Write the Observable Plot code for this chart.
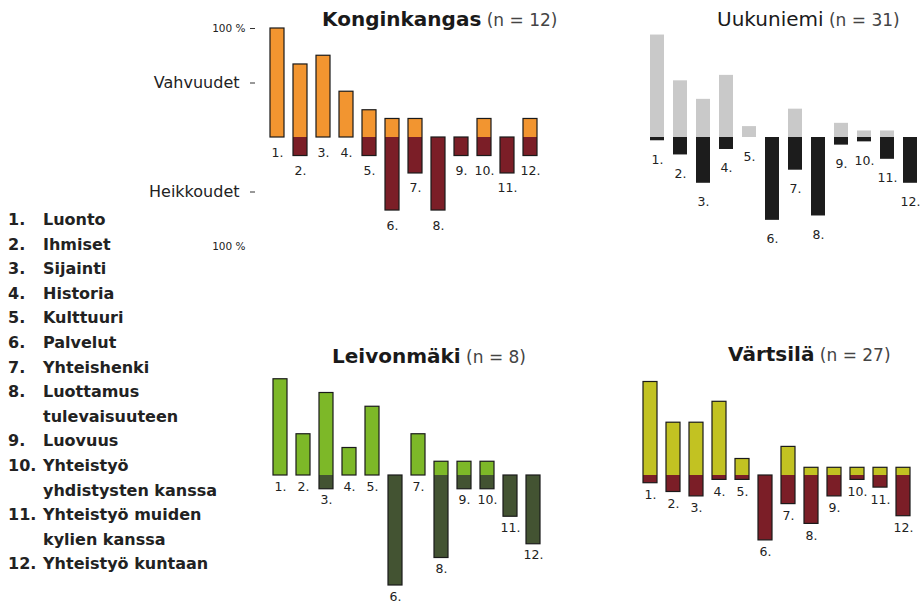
<!DOCTYPE html>
<html><head><meta charset="utf-8">
<script src="https://cdn.jsdelivr.net/npm/d3@7"></script>
<script src="https://cdn.jsdelivr.net/npm/@observablehq/plot@0.6"></script>
<style>
html,body{margin:0;padding:0;background:#fff;overflow:hidden}
#root{position:relative;width:923px;height:604px;font-family:"DejaVu Sans",sans-serif;color:#1a1a1a}
.panel{position:absolute}
.title{position:absolute;white-space:nowrap;line-height:20px}
.title .name{font-size:20px}
.title .n{font-size:17px;color:#444}
.legend{position:absolute;left:8px;top:208px;font-size:16px;font-weight:bold;line-height:24.6px;color:#222}
.legend .row{display:flex}
.legend .num{width:35px;flex:none}
</style></head><body><div id="root"></div>
<script>
// ---- data ----
const categories = ["1.", "2.", "3.", "4.", "5.", "6.", "7.", "8.", "9.", "10.", "11.", "12."];
const legendNumbers = ["1.", "2.", "3.", "4.", "5.", "6.", "7.", "8.", "9.", "10.", "11.", "12."];
const legendLabels = [
  ["Luonto"], ["Ihmiset"], ["Sijainti"], ["Historia"], ["Kulttuuri"], ["Palvelut"],
  ["Yhteishenki"], ["Luottamus", "tulevaisuuteen"], ["Luovuus"],
  ["Yhteistyö", "yhdistysten kanssa"], ["Yhteistyö muiden", "kylien kanssa"], ["Yhteistyö kuntaan"]
];
const axisTickValues = [100, 50, -50, -100];
const axisTickLabels = ["100 %", "Vahvuudet", "Heikkoudet", "100 %"];

const konginkangasStrengths  = [100, 67, 75, 42, 25, 17, 17, 0, 0, 17, 0, 17];
const konginkangasWeaknesses = [0, 17, 0, 0, 17, 67, 33, 67, 17, 17, 33, 17];
const uukuniemiStrengths  = [94, 52, 35, 57, 10, 0, 26, 0, 13, 6, 6, 0];
const uukuniemiWeaknesses = [3, 16, 42, 11, 0, 76, 30, 72, 7, 4, 20, 42];
const leivonmakiStrengths  = [87.5, 37.5, 75, 25, 62.5, 0, 37.5, 12.5, 12.5, 12.5, 0, 0];
const leivonmakiWeaknesses = [0, 0, 12.5, 0, 0, 100, 0, 75, 12.5, 12.5, 37.5, 62.5];
const vartsilaStrengths  = [85, 48, 48, 67, 15, 0, 26, 7, 7, 7, 7, 7];
const vartsilaWeaknesses = [7, 15, 19, 4, 4, 59, 26, 44, 19, 4, 11, 37];

// ---- layout ----
const panels = [
  {name: "Konginkangas", n: "(n = 12)", bold: true, strengths: konginkangasStrengths, weaknesses: konginkangasWeaknesses,
   light: "#F29530", dark: "#7B1E27", outline: true, axis: true,
   left: 140, top: 0, width: 420, height: 252, c1: 276, step: 23.1, baseline: 137, px: 109, labelDy: 15,
   titleLeft: 322, titleTop: 9},
  {name: "Uukuniemi", n: "(n = 31)", bold: false, strengths: uukuniemiStrengths, weaknesses: uukuniemiWeaknesses,
   light: "#C9C9C9", dark: "#1C1C1C", outline: false, axis: false,
   left: 600, top: 0, width: 323, height: 252, c1: 657, step: 23, baseline: 137, px: 109, labelDy: 19,
   titleLeft: 717, titleTop: 9},
  {name: "Leivonmäki", n: "(n = 8)", bold: true, strengths: leivonmakiStrengths, weaknesses: leivonmakiWeaknesses,
   light: "#7DB828", dark: "#435332", outline: true, axis: false,
   left: 250, top: 340, width: 310, height: 264, c1: 279.5, step: 23, baseline: 475, px: 110, labelDy: 11,
   titleLeft: 332, titleTop: 346},
  {name: "Värtsilä", n: "(n = 27)", bold: true, strengths: vartsilaStrengths, weaknesses: vartsilaWeaknesses,
   light: "#C2C222", dark: "#7B1E27", outline: true, axis: false,
   left: 620, top: 340, width: 303, height: 264, c1: 649.5, step: 23.05, baseline: 475, px: 110, labelDy: 12,
   titleLeft: 728, titleTop: 344}
];

const root = document.getElementById("root");

function drawPanel(p) {
  const data = categories.map((c, i) => ({cat: c, s: p.strengths[i], w: p.weaknesses[i]}));
  const marginLeft = p.c1 - p.left - 0.4 * p.step;
  const plotW = 11.8 * p.step;
  const marginRight = p.width - marginLeft - plotW;
  const marginTop = p.baseline - p.px - p.top;
  const marginBottom = p.top + p.height - (p.baseline + p.px);
  const marks = [
    Plot.barY(data, {x: "cat", y1: 0, y2: "s", fill: p.light}),
    Plot.barY(data, {x: "cat", y1: d => -d.w, y2: 0, fill: p.dark})
  ];
  if (p.outline) {
    marks.push(Plot.barY(data.filter(d => d.s + d.w > 0), {x: "cat", y1: d => -d.w, y2: "s", fill: "none", stroke: "#1a1a1a", strokeWidth: 1.2}));
  }
  marks.push(Plot.text(data, {x: "cat", y: d => -d.w, text: "cat", dy: p.labelDy, fontSize: 12.5, fill: "#222"}));
  if (p.axis) {
    const axisData = axisTickValues.map((v, i) => ({v, label: axisTickLabels[i], small: axisTickLabels[i] === "100 %"}));
    const tickEnd = 255 - p.left;
    marks.push(Plot.axisY(axisTickValues.slice(0, 3), {anchor: "left", tickSize: 5, tickFormat: () => "", dx: tickEnd - marginLeft, stroke: "#333"}));
    marks.push(Plot.text(axisData.filter(d => d.small), {y: "v", text: "label", frameAnchor: "left", textAnchor: "end", dx: 245 - p.left - marginLeft, fontSize: 10.5, fill: "#222"}));
    marks.push(Plot.text(axisData.filter(d => !d.small), {y: "v", text: "label", frameAnchor: "left", textAnchor: "end", dx: 239 - p.left - marginLeft, fontSize: 16, fill: "#222"}));
  }
  const svg = Plot.plot({
    width: p.width, height: p.height,
    marginLeft, marginRight, marginTop, marginBottom,
    x: {domain: categories, paddingInner: 0.4, paddingOuter: 0.1, axis: null},
    y: {domain: [-100, 100], axis: null},
    style: {background: "transparent", fontFamily: "DejaVu Sans, sans-serif", overflow: "visible"},
    marks
  });
  svg.classList.add("panel");
  svg.style.left = p.left + "px";
  svg.style.top = p.top + "px";
  root.appendChild(svg);

  const t = document.createElement("div");
  t.className = "title";
  t.style.left = p.titleLeft + "px";
  t.style.top = p.titleTop + "px";
  const nm = document.createElement("span");
  nm.className = "name";
  nm.style.fontWeight = p.bold ? "bold" : "normal";
  nm.textContent = p.name;
  const nn = document.createElement("span");
  nn.className = "n";
  nn.textContent = " " + p.n;
  t.appendChild(nm); t.appendChild(nn);
  root.appendChild(t);
}

panels.forEach(drawPanel);

const legend = document.createElement("div");
legend.className = "legend";
legendLabels.forEach((lines, i) => {
  lines.forEach((line, j) => {
    const row = document.createElement("div");
    row.className = "row";
    const num = document.createElement("span");
    num.className = "num";
    num.textContent = j === 0 ? legendNumbers[i] : "";
    const txt = document.createElement("span");
    txt.textContent = line;
    row.appendChild(num); row.appendChild(txt);
    legend.appendChild(row);
  });
});
root.appendChild(legend);
</script>
</body></html>
